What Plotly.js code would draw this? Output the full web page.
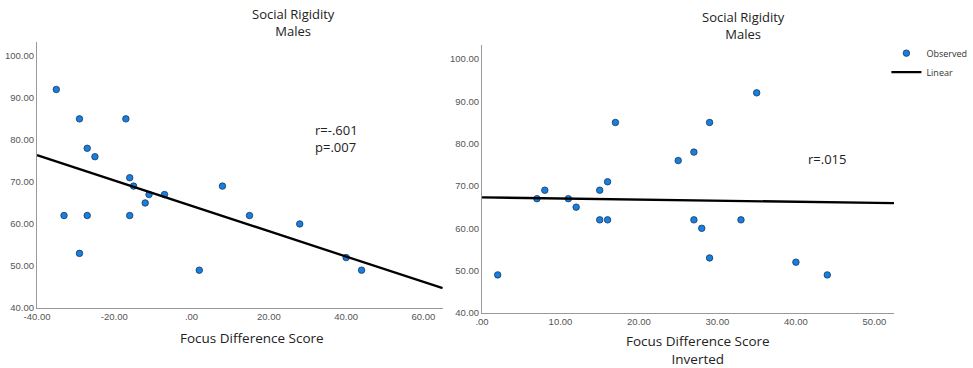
<!DOCTYPE html>
<html>
<head>
<meta charset="utf-8">
<script src="https://cdn.plot.ly/plotly-3.0.1.min.js"></script>
<style>html,body{margin:0;padding:0;background:#fff;}#chart{width:973px;height:368px;}</style>
</head>
<body>
<div id="chart"></div>
<script>
// Left panel: Focus Difference Score vs Social Rigidity
const focusDiff = [-35, -29, -17, -27, -25, -16, -15, -11, -7, -12, -33, -27, -16, -29, 2, 8, 15, 28, 40, 44];
const socialRigidity = [92, 85, 85, 78, 76, 71, 69, 67, 67, 65, 62, 62, 62, 53, 49, 69, 62, 60, 52, 49];
// Right panel: Focus Difference Score (Inverted)
const focusInverted = [35, 29, 17, 27, 25, 16, 15, 11, 7, 12, 33, 27, 16, 29, 2, 8, 15, 28, 40, 44];

const leftXTicks = [-40, -20, 0, 20, 40, 60];
const leftXLabels = ["-40.00", "-20.00", ".00", "20.00", "40.00", "60.00"];
const rightXTicks = [0, 10, 20, 30, 40, 50];
const rightXLabels = [".00", "10.00", "20.00", "30.00", "40.00", "50.00"];
const yTicks = [40, 50, 60, 70, 80, 90, 100];
const yLabels = ["40.00", "50.00", "60.00", "70.00", "80.00", "90.00", "100.00"];

const leftXRange = [-40, 65];
const rightXRange = [0, 52.5];
const yRange = [40, 103.3];

function fit(xs, ys) {
  const n = xs.length;
  const mx = xs.reduce((a, b) => a + b, 0) / n;
  const my = ys.reduce((a, b) => a + b, 0) / n;
  let sxy = 0, sxx = 0;
  for (let i = 0; i < n; i++) { sxy += (xs[i] - mx) * (ys[i] - my); sxx += (xs[i] - mx) ** 2; }
  const b = sxy / sxx;
  return { a: my - b * mx, b: b };
}
const fL = fit(focusDiff, socialRigidity);
const fR = fit(focusInverted, socialRigidity);

const markerStyle = { color: '#1a7fdc', size: 6.5, line: { color: '#123a66', width: 0.8 } };

const traces = [
  { x: focusDiff, y: socialRigidity, xaxis: 'x', yaxis: 'y', mode: 'markers', type: 'scatter',
    marker: markerStyle, showlegend: false, hoverinfo: 'skip' },
  { x: leftXRange, y: leftXRange.map(v => fL.a + fL.b * v), xaxis: 'x', yaxis: 'y', mode: 'lines', type: 'scatter',
    line: { color: '#000', width: 2.3 }, showlegend: false, hoverinfo: 'skip' },
  { x: focusInverted, y: socialRigidity, xaxis: 'x2', yaxis: 'y2', mode: 'markers', type: 'scatter',
    marker: markerStyle, name: 'Observed', hoverinfo: 'skip' },
  { x: rightXRange, y: rightXRange.map(v => fR.a + fR.b * v), xaxis: 'x2', yaxis: 'y2', mode: 'lines', type: 'scatter',
    line: { color: '#000', width: 2.3 }, name: 'Linear', hoverinfo: 'skip' }
];

const tickFont = { family: 'Liberation Sans, Arial, sans-serif', size: 9.5, color: '#555' };
const titleFont = { family: 'Open Sans, Noto Sans, sans-serif', size: 13, color: '#222' };
const axTitleFont = { family: 'Open Sans, Noto Sans, sans-serif', size: 13.5, color: '#222' };

const axCommon = {
  showgrid: false, zeroline: false, showline: true, linecolor: '#999', linewidth: 1,
  ticks: '', tickfont: tickFont, fixedrange: true, automargin: false
};

const layout = {
  width: 973, height: 368,
  margin: { l: 0, r: 0, t: 0, b: 0, autoexpand: false },
  paper_bgcolor: '#fff', plot_bgcolor: '#fff',
  showlegend: true,
  legend: { x: 0.911, y: 0.895, xanchor: 'left', yanchor: 'top', font: { family: 'Open Sans, Noto Sans, sans-serif', size: 9, color: '#333' },
    tracegroupgap: 0, itemwidth: 30, bgcolor: 'rgba(0,0,0,0)' },
  xaxis: Object.assign({}, axCommon, { domain: [0.038, 0.455], range: leftXRange, anchor: 'y',
    tickvals: leftXTicks, ticktext: leftXLabels }),
  yaxis: Object.assign({}, axCommon, { domain: [0.163, 0.886], range: yRange, anchor: 'x',
    tickvals: yTicks, ticktext: yLabels }),
  xaxis2: Object.assign({}, axCommon, { domain: [0.4954, 0.9188], range: rightXRange, anchor: 'y2',
    tickvals: rightXTicks, ticktext: rightXLabels }),
  yaxis2: Object.assign({}, axCommon, { domain: [0.1495, 0.8777], range: yRange, anchor: 'x2',
    tickvals: yTicks, ticktext: yLabels }),
  annotations: [
    { text: 'Social Rigidity<br>Males', xref: 'paper', yref: 'paper', x: 293 / 973, y: 1 - 22 / 368,
      showarrow: false, font: titleFont, xanchor: 'center', yanchor: 'middle' },
    { text: 'Social Rigidity<br>Males', xref: 'paper', yref: 'paper', x: 743 / 973, y: 1 - 25 / 368,
      showarrow: false, font: titleFont, xanchor: 'center', yanchor: 'middle' },
    { text: 'Focus Difference Score', xref: 'paper', yref: 'paper', x: 252 / 973, y: 1 - 338 / 368,
      showarrow: false, font: axTitleFont, xanchor: 'center', yanchor: 'middle' },
    { text: 'Focus Difference Score<br>Inverted', xref: 'paper', yref: 'paper', x: 698 / 973, y: 1 - 350 / 368,
      showarrow: false, font: axTitleFont, xanchor: 'center', yanchor: 'middle' },
    { text: 'r=-.601<br>p=.007', xref: 'paper', yref: 'paper', x: 313 / 973, y: 1 - 138 / 368,
      showarrow: false, align: 'left', xanchor: 'left', yanchor: 'middle',
      font: { family: 'Open Sans, Noto Sans, sans-serif', size: 13, color: '#222' } },
    { text: 'r=.015', xref: 'paper', yref: 'paper', x: 806 / 973, y: 1 - 159 / 368,
      showarrow: false, xanchor: 'left', yanchor: 'middle',
      font: { family: 'Open Sans, Noto Sans, sans-serif', size: 13, color: '#222' } }
  ]
};

Plotly.newPlot('chart', traces, layout, { staticPlot: true, displayModeBar: false });
</script>
</body>
</html>
